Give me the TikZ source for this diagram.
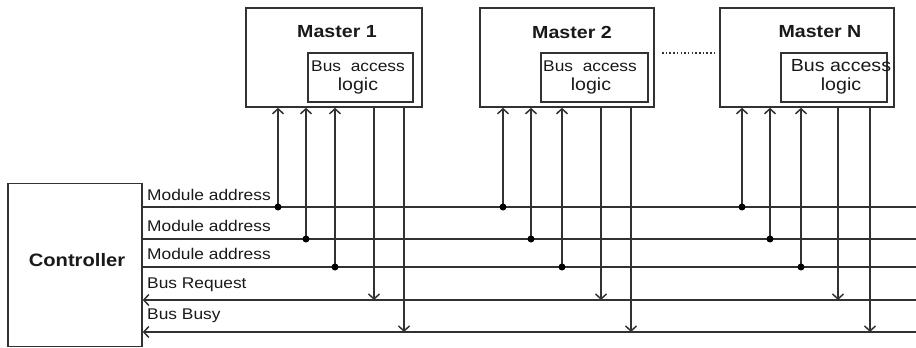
\documentclass[tikz,border=0pt]{standalone}
\usepackage{fontspec}
\setmainfont{Liberation Sans}[FakeStretch=1.12]
\usetikzlibrary{arrows.meta}
\definecolor{ln}{RGB}{50,50,50}
\definecolor{tx}{RGB}{25,25,25}
\tikzset{
  box/.style={draw=ln, line width=1.6pt, inner sep=0pt, fill=white},
  lbl/.style={anchor=west, inner sep=0pt, text=tx, font=\fontsize{15.5}{15.5}\selectfont},
  ttl/.style={inner sep=0pt, text=tx, font=\fontsize{17.5}{17.5}\selectfont\bfseries},
  bus/.style={draw=ln, line width=1.5pt},
  tap/.style={draw=ln, line width=1.5pt},
  tip/.style={-{Straight Barb[length=5pt,width=11pt,line width=1.5pt]}},
  dotc/.style={circle, fill=black, inner sep=0pt, minimum size=7pt}
}
\begin{document}
\begin{tikzpicture}[x=1pt,y=-1pt]
\useasboundingbox (0,0) rectangle (916,348);

% Masters
\node[box, minimum width=176pt, minimum height=99pt] (m1) at (334,57.5) {};
\node[box, minimum width=105pt, minimum height=49pt] (l1) at (360.5,77.5) {};
\node[ttl] (t1) at (337,32) {Master 1};
\node[inner sep=0pt, text=tx, font=\fontsize{15.5}{15.5}\selectfont] (a1) at (358,66) {Bus\ \ access};
\node[inner sep=0pt, text=tx, font=\fontsize{17.5}{17.5}\selectfont] (g1) at (358,86) {logic};

\node[box, minimum width=174pt, minimum height=99pt] (m2) at (567,57.5) {};
\node[box, minimum width=107pt, minimum height=49pt] (l2) at (594.5,77.5) {};
\node[ttl] (t2) at (572,32) {Master 2};
\node[inner sep=0pt, text=tx, font=\fontsize{15.5}{15.5}\selectfont] (a2) at (590,66) {Bus\ \ access};
\node[inner sep=0pt, text=tx, font=\fontsize{17.5}{17.5}\selectfont] (g2) at (591,86) {logic};

\node[box, minimum width=174pt, minimum height=99pt] (mN) at (807,57.5) {};
\node[box, minimum width=106pt, minimum height=49pt] (lN) at (834,77.5) {};
\node[ttl] (tN) at (820,32) {Master N};
\node[inner sep=0pt, text=tx, font=\fontsize{17.5}{17.5}\selectfont] (aN) at (841,66) {Bus access};
\node[inner sep=0pt, text=tx, font=\fontsize{17.5}{17.5}\selectfont] (gN) at (841,86) {logic};

% dotted continuation
\coordinate (dd1) at (662,53);
\coordinate (dd2) at (714,53);
\draw[draw=ln, line width=1.3pt, dash pattern=on 1.5pt off 2.2pt] (dd1) -- (dd2);

% Controller
\node[box, minimum width=134pt, minimum height=163pt] (ctrl) at (75,265) {};
\node[inner sep=0pt, text=tx, font=\fontsize{18}{18}\selectfont\bfseries] (ct) at (77,260) {Controller};

% Bus lines
\coordinate (b1w) at (ctrl.east |- 0,207); \coordinate (b1e) at (916,207);
\coordinate (b2w) at (ctrl.east |- 0,239); \coordinate (b2e) at (916,239);
\coordinate (b3w) at (ctrl.east |- 0,267); \coordinate (b3e) at (916,267);
\coordinate (b4w) at (ctrl.east |- 0,300); \coordinate (b4e) at (916,300);
\coordinate (b5w) at (ctrl.east |- 0,332); \coordinate (b5e) at (916,332);
\draw[bus] (b1w) -- (b1e);
\draw[bus] (b2w) -- (b2e);
\draw[bus] (b3w) -- (b3e);
\draw[bus, tip] (b4e) -- (b4w);
\draw[bus, tip] (b5e) -- (b5w);

% Labels
\node[lbl] (n1) at (147,195) {Module address};
\node[lbl] (n2) at (147,226) {Module address};
\node[lbl] (n3) at (147,254) {Module address};
\node[lbl] (n4) at (147,285) {Bus Request};
\node[lbl] (n5) at (147,316) {Bus Busy};

% Taps
\foreach \m/\xa/\xb/\xc/\xd/\xe in {m1/278/306/335/374/404, m2/503/531/562/601/631, mN/742/770/801/838/870}{
  \coordinate (p1) at (\xa,207);
  \coordinate (p2) at (\xb,239);
  \coordinate (p3) at (\xc,267);
  \coordinate (p4) at (\xd,300);
  \coordinate (p5) at (\xe,332);
  \draw[tap, tip] (p1) -- (p1 |- \m.south);
  \draw[tap, tip] (p2) -- (p2 |- \m.south);
  \draw[tap, tip] (p3) -- (p3 |- \m.south);
  \draw[tap, tip] (p4 |- \m.south) -- (p4);
  \draw[tap, tip] (p5 |- \m.south) -- (p5);
  \node[dotc] at (p1) {};
  \node[dotc] at (p2) {};
  \node[dotc] at (p3) {};
}
\end{tikzpicture}
\end{document}
